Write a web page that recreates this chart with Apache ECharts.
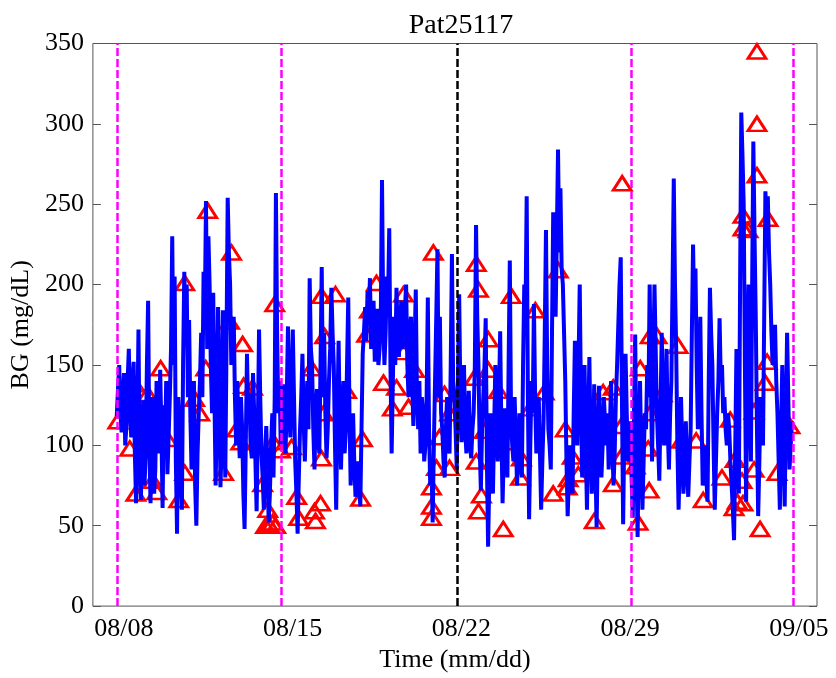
<!DOCTYPE html>
<html><head><meta charset="utf-8">
<script src="https://cdn.jsdelivr.net/npm/echarts@6/dist/echarts.min.js"></script>
<style>html,body{margin:0;padding:0;background:#fff}#c{width:836px;height:678px}</style>
</head><body><div id="c"></div>
<script>
const chartTitle = 'Pat25117';
const xName = 'Time (mm/dd)';
const yName = 'BG (mg/dL)';
const xMin = 5.72, xMax = 35.75;
const xTickDays = [7, 14, 21, 28, 35];
const xTickLabels = ['08/08', '08/15', '08/22', '08/29', '09/05'];
const magentaLineDays = [6.72, 13.55, 28.04, 34.75];
const blackLineDays = [20.82];

// CGM trace: uniform sampling starting at cgmStartDay, every cgmStepDay days
const cgmStartDay = 6.71, cgmStepDay = 0.05;
const bgValues = [
 118,135,150,120,108,130,145,100,112,140, 160,120,105,140,152,95,64,110,172,90,
 66,100,128,75,95,150,190,100,64,115, 130,70,85,140,118,95,147,110,61,125,
 98,140,82,105,130,160,230,150,205,90, 45,130,115,80,60,150,208,170,200,130,
 178,120,85,110,140,75,50,95,120,140, 170,130,208,180,252,160,230,200,150,120,
 195,130,75,120,186,140,74,100,184,120, 80,160,254,220,200,150,165,180,130,100,
 140,110,92,130,110,70,48,100,157,120, 132,100,92,145,120,90,59,110,172,130,
 95,80,60,95,112,85,52,70,100,120, 80,130,257,170,120,140,100,115,138,110,
 95,130,174,120,105,140,172,130,90,70, 45,80,110,130,157,115,90,120,140,110,
 204,160,150,110,85,120,135,105,95,150, 211,130,170,120,92,110,140,160,198,170,
 150,100,60,120,165,110,85,120,140,95, 110,150,192,120,75,95,120,90,68,85,
 90,75,62,110,157,170,186,165,196,180, 204,160,175,190,152,170,185,150,160,180,
 265,180,150,170,205,190,235,150,95,140, 180,150,198,170,155,175,190,160,165,185,
 200,150,130,170,180,140,112,160,197,130, 110,140,95,130,120,90,100,130,192,110,
 75,90,52,100,140,180,222,130,180,120, 110,90,80,110,130,100,95,150,219,140,
 130,110,85,140,194,130,102,120,150,110, 95,115,134,100,92,110,120,150,237,180,
 150,100,72,110,130,150,179,90,37,80, 120,95,70,110,150,120,90,130,171,110,
 64,95,123,100,80,150,215,120,100,90, 130,105,75,95,120,100,80,150,200,180,
 255,130,54,100,140,120,188,130,95,110, 130,95,60,90,115,170,234,150,110,100,
 85,170,245,200,180,230,284,220,260,210, 200,170,140,90,56,80,100,85,70,120,
 165,130,100,150,200,130,80,110,150,100, 60,110,155,100,70,95,138,90,49,100,
 137,110,80,100,130,115,100,120,85,110, 140,100,75,95,130,150,175,200,217,130,
 51,110,157,120,90,100,115,80,55,120, 169,90,43,100,140,95,60,90,120,110,
 150,130,200,140,90,150,200,160,120,100, 78,120,170,130,100,120,160,110,85,120,
 140,200,266,200,160,100,60,90,130,100, 70,90,115,85,68,90,110,170,225,180,
 210,150,110,140,180,120,75,90,100,80, 65,140,198,170,150,100,60,90,120,140,
 179,140,150,120,130,110,100,120,110,90, 75,60,41,100,160,110,70,200,307,280,
 250,150,65,140,200,130,90,200,289,230, 180,110,56,90,130,115,100,180,258,240,
 255,220,200,170,150,160,175,140,120,90, 60,110,150,100,62,120,170,130,85,100,
 115
];

// Fingerstick (SMBG) readings: red triangles
const smbgDays = [
 6.75,7.25,7.46,7.50,7.99,8.20,8.37,8.53,8.82,9.28,9.53,9.53,9.94,10.15,10.40,10.48,
 11.14,11.39,11.47,11.68,11.85,11.93,11.97,12.34,12.76,12.97,13.01,12.88,13.17,13.30,13.21,13.26,
 13.50,13.96,14.17,14.25,14.79,14.91,14.95,15.16,15.20,15.20,15.29,15.33,15.78,16.24,16.82,16.90,
 17.07,17.19,17.48,17.77,18.14,18.31,18.60,18.60,18.81,19.06,19.76,19.76,19.76,19.84,19.97,20.09,
 20.30,20.51,20.51,21.54,21.62,21.62,21.71,21.71,21.83,21.95,22.12,22.12,22.53,22.74,22.95,23.07,
 23.45,23.49,23.86,24.07,24.44,24.81,25.02,25.31,25.39,25.43,25.60,25.85,26.51,26.88,27.30,27.30,
 27.63,27.63,27.67,28.21,28.33,28.42,28.75,28.79,28.83,28.83,29.12,29.33,29.99,30.12,30.74,31.03,
 31.81,32.15,32.35,32.44,32.31,32.68,32.68,32.89,32.64,32.68,33.14,33.14,33.26,33.26,33.26,33.39,
 33.60,33.68,33.72,34.09,34.63
];
const smbgValues = [
 115,98,138,70,132,78,71,148,104,66,83,201,129,120,148,246,
 83,177,220,110,102,163,137,136,76,60,51,50,52,50,102,188,
 97,99,68,55,148,59,53,64,193,92,120,168,194,134,67,104,
 169,184,201,139,123,136,194,158,124,147,74,62,55,220,86,105,
 132,120,86,142,213,90,197,59,69,109,166,147,134,48,102,193,
 80,92,123,184,133,70,209,110,74,79,93,82,53,133,136,76,
 112,93,263,87,52,148,98,72,120,168,168,132,162,103,103,66,
 80,116,91,65,61,243,235,234,78,64,121,85,345,300,268,48,
 139,152,241,83,112
];

const FONT = "'Liberation Serif', 'Times New Roman', serif";
const cgmData = bgValues.map((v, i) => [cgmStartDay + i * cgmStepDay, v]);
const smbgData = smbgDays.map((d, i) => [d, smbgValues[i]]);
const dashed = (color) => ({ color: color, type: [8, 3], width: 2.5 });

const chart = echarts.init(document.getElementById('c'), null, { renderer: 'canvas' });
chart.setOption({
  animation: false,
  backgroundColor: '#ffffff',
  title: {
    text: chartTitle, left: 456, top: 7, textAlign: 'center',
    textStyle: { fontFamily: FONT, fontSize: 28, fontWeight: 'normal', color: '#000' }
  },
  grid: { left: 92, right: 19, top: 43.5, bottom: 64, show: true, borderColor: '#555', borderWidth: 1 },
  xAxis: {
    type: 'value', min: xMin, max: xMax,
    axisLine: { show: false }, axisTick: { show: false }, splitLine: { show: false },
    axisLabel: {
      customValues: xTickDays,
      formatter: (v) => { const k = xTickDays.indexOf(v); return k >= 0 ? xTickLabels[k] : ''; },
      margin: 10, fontFamily: FONT, fontSize: 26, color: '#000'
    },
    name: xName, nameLocation: 'middle', nameGap: 35,
    nameTextStyle: { fontFamily: FONT, fontSize: 26, color: '#000' }
  },
  yAxis: [{
    type: 'value', min: 0, max: 350, interval: 50,
    axisLine: { show: false }, splitLine: { show: false },
    axisTick: { show: true, inside: true, length: 8, lineStyle: { color: '#555' } },
    axisLabel: { margin: 9, fontFamily: FONT, fontSize: 26, color: '#000' },
    name: yName, nameLocation: 'middle', nameGap: 55,
    nameTextStyle: { fontFamily: FONT, fontSize: 26, color: '#000' }
  }, {
    type: 'value', position: 'right', min: 0, max: 350, interval: 50,
    axisLine: { show: false }, splitLine: { show: false },
    axisTick: { show: true, inside: true, length: 8, lineStyle: { color: '#555' } },
    axisLabel: { show: false }
  }],
  series: [{
    type: 'scatter', data: smbgData, symbol: 'triangle', symbolSize: [18, 14], z: 2,
    itemStyle: { color: 'rgba(255,255,255,0)', borderColor: '#FF0000', borderWidth: 2.8, opacity: 1 }
  }, {
    type: 'line', data: cgmData, showSymbol: false, symbol: 'none',
    lineStyle: { color: '#0000FF', width: 4 }, z: 3,
    markLine: {
      silent: true, symbol: 'none', label: { show: false }, z: 5,
      data: magentaLineDays.map(d => ({ xAxis: d, lineStyle: dashed('#FF00FF') }))
        .concat(blackLineDays.map(d => ({ xAxis: d, lineStyle: dashed('#000000') })))
    }
  }]
});
</script></body></html>
